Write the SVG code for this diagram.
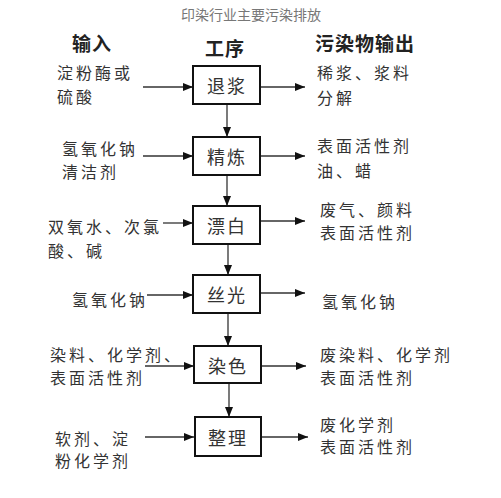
<svg xmlns="http://www.w3.org/2000/svg" width="501" height="498" viewBox="0 0 501 498">
<defs>
<marker id="ah" viewBox="0 0 10 8" refX="10" refY="4" markerWidth="10" markerHeight="8" markerUnits="userSpaceOnUse" orient="auto">
<path d="M0,0 L10,4 L0,8 Z" fill="#111"/>
</marker>
<style>
.t{font-family:"Noto Sans CJK SC","Noto Sans",sans-serif;font-size:16px;fill:#333;letter-spacing:3px;dominant-baseline:central}
.h{font-family:"Noto Sans CJK SC","Noto Sans",sans-serif;font-size:19px;font-weight:bold;fill:#222;letter-spacing:1px;dominant-baseline:central}
.title{font-family:"Noto Sans CJK SC","Noto Sans",sans-serif;font-size:14px;fill:#777;text-anchor:middle;dominant-baseline:central}
.box{fill:#fff;stroke:#111;stroke-width:2}
.bt{font-family:"Noto Sans CJK SC","Noto Sans",sans-serif;font-size:18px;fill:#333;text-anchor:middle;dominant-baseline:central;letter-spacing:2px}
.c{stroke:#333;stroke-width:1.3;fill:none;marker-end:url(#ah)}
</style>
</defs>
<rect width="501" height="498" fill="#fff"/>
<text class="title" x="251" y="14">印染行业主要污染排放</text>
<text class="h" x="72" y="42">输入</text>
<text class="h" x="205" y="47">工序</text>
<text class="h" x="315" y="42">污染物输出</text>

<g id="connectors">
<line class="c" x1="143" y1="87" x2="193" y2="87"/>
<line class="c" x1="260" y1="87" x2="305" y2="87"/>
<line class="c" x1="227" y1="104" x2="227" y2="137"/>
<line class="c" x1="143" y1="156" x2="193" y2="156"/>
<line class="c" x1="260" y1="156" x2="305" y2="156"/>
<line class="c" x1="227" y1="175" x2="227" y2="206"/>
<line class="c" x1="163" y1="223" x2="193" y2="223"/>
<line class="c" x1="260" y1="221" x2="305" y2="221"/>
<line class="c" x1="228" y1="244" x2="228" y2="275"/>
<line class="c" x1="147" y1="295" x2="193" y2="295"/>
<line class="c" x1="260" y1="293" x2="305" y2="293"/>
<line class="c" x1="228" y1="313" x2="228" y2="346"/>
<line class="c" x1="145" y1="366" x2="194" y2="366"/>
<line class="c" x1="261" y1="366" x2="306" y2="366"/>
<line class="c" x1="229" y1="383" x2="229" y2="417"/>
<line class="c" x1="145" y1="437" x2="194" y2="437"/>
<line class="c" x1="262" y1="437" x2="308" y2="437"/>
</g>

<g id="n1">
<rect class="box" x="193" y="66" width="67" height="38"/>
<text class="bt" x="227" y="85">退浆</text>
<text class="t" x="57" y="72">淀粉酶或</text>
<text class="t" x="57" y="96">硫酸</text>
<text class="t" x="317" y="72">稀浆、浆料</text>
<text class="t" x="317" y="97">分解</text>
</g>
<g id="n2">
<rect class="box" x="193" y="137" width="67" height="38"/>
<text class="bt" x="227" y="156">精炼</text>
<text class="t" x="62" y="148">氢氧化钠</text>
<text class="t" x="62" y="171">清洁剂</text>
<text class="t" x="317" y="145">表面活性剂</text>
<text class="t" x="317" y="170">油、蜡</text>
</g>
<g id="n3">
<rect class="box" x="193" y="206" width="67" height="38"/>
<text class="bt" x="227" y="225">漂白</text>
<text class="t" x="48" y="226">双氧水、次氯</text>
<text class="t" x="48" y="250">酸、碱</text>
<text class="t" x="320" y="209">废气、颜料</text>
<text class="t" x="320" y="232">表面活性剂</text>
</g>
<g id="n4">
<rect class="box" x="193" y="275" width="67" height="38"/>
<text class="bt" x="227" y="294">丝光</text>
<text class="t" x="72" y="299">氢氧化钠</text>
<text class="t" x="322" y="301">氢氧化钠</text>
</g>
<g id="n5">
<rect class="box" x="194" y="346" width="67" height="37"/>
<text class="bt" x="228" y="365">染色</text>
<text class="t" x="50" y="354">染料、化学剂、</text>
<text class="t" x="50" y="377">表面活性剂</text>
<text class="t" x="320" y="354">废染料、化学剂</text>
<text class="t" x="320" y="377">表面活性剂</text>
</g>
<g id="n6">
<rect class="box" x="195" y="417" width="66" height="39"/>
<text class="bt" x="228" y="437">整理</text>
<text class="t" x="55" y="438">软剂、淀</text>
<text class="t" x="55" y="460">粉化学剂</text>
<text class="t" x="320" y="424">废化学剂</text>
<text class="t" x="320" y="446">表面活性剂</text>
</g>
</svg>
